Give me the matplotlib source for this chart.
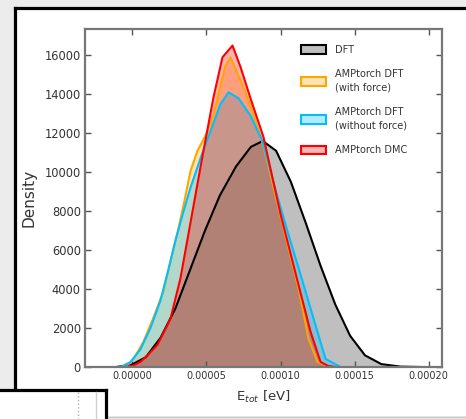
import numpy as np
import matplotlib.pyplot as plt
from matplotlib.colors import to_rgb
from matplotlib.patches import Rectangle, Patch
from matplotlib.lines import Line2D
from matplotlib.ticker import FormatStrFormatter

W, H = 466, 419

# KDE curves (energy in eV, density)
dft_x = np.array([-1.1, -0.1, 0.9, 1.9, 2.9, 3.9, 4.9, 5.9, 7.0, 8.0, 8.8, 9.7,
                  10.7, 11.7, 12.7, 13.7, 14.7, 15.7, 16.8, 18.1, 19.5]) * 1e-5
dft_y = [0, 100, 500, 1500, 3000, 5000, 7000, 8800, 10300, 11300, 11600, 11100,
         9500, 7400, 5200, 3200, 1600, 600, 150, 20, 0]

force_x = np.array([-0.47, 0.07, 0.74, 1.42, 2.09, 2.70, 3.11, 3.51, 3.92, 4.39, 4.93,
                    5.47, 5.95, 6.28, 6.62, 7.16, 7.97, 8.85, 10.0, 11.22, 11.89,
                    12.50, 13.38]) * 1e-5
force_y = [0, 400, 1290, 2530, 3870, 5830, 7120, 8520, 10060, 11100, 11870,
           12900, 14450, 15480, 15900, 14970, 13420, 11350, 7740, 4030, 1445,
           258, 0]

noforce_x = np.array([-0.81, -0.14, 0.54, 1.22, 1.89, 2.43, 2.91, 3.38, 3.92, 4.59,
                      5.27, 5.95, 6.49, 7.16, 7.97, 8.78, 9.66, 10.47, 11.49, 12.23,
                      13.04, 14.05]) * 1e-5
noforce_y = [0, 250, 900, 2000, 3400, 5000, 6500, 7800, 9200, 10700, 12100,
             13500, 14100, 13800, 12900, 11600, 9100, 6970, 4390, 2480, 413, 0]

dmc_x = np.array([-0.47, 0.07, 0.54, 1.08, 1.69, 2.57, 3.24, 3.78, 4.39, 4.80, 5.47,
                  6.08, 6.76, 7.30, 7.97, 8.85, 10.0, 11.15, 12.03, 12.70, 13.2,
                  13.72]) * 1e-5
dmc_y = [0, 80, 258, 650, 1135, 2480, 4540, 6810, 9390, 11100, 13830, 15900,
         16500, 15400, 13800, 11800, 7850, 4400, 1800, 260, 60, 0]

labels = ['DFT', 'AMPtorch DFT\n(with force)', 'AMPtorch DFT\n(without force)',
          'AMPtorch DMC']
colors = ['black', 'orange', 'deepskyblue', 'red']
alphas = [0.25, 0.3, 0.3, 0.3]
x_ticks = [0.0, 5e-5, 1e-4, 1.5e-4, 2e-4]
y_ticks = [0, 2000, 4000, 6000, 8000, 10000, 12000, 14000, 16000]


def fig_rect(fig, x0, y0, x1, y1, **kw):
    # box given in image pixels (origin top-left)
    r = Rectangle((x0 / W, 1 - y1 / H), (x1 - x0) / W, (y1 - y0) / H,
                  transform=fig.transFigure, zorder=-1, **kw)
    fig.add_artist(r)


def fig_line(fig, xs, ys, **kw):
    ln = Line2D([x / W for x in xs], [1 - y / H for y in ys],
                transform=fig.transFigure, zorder=-1, **kw)
    fig.add_artist(ln)


fig = plt.figure(figsize=(W / 100, H / 100), dpi=100, facecolor='#ececec')

# screenshot framing
fig_rect(fig, 15, 9, 466, 416, facecolor='white', edgecolor='none')
fig_line(fig, [14.5, 466], [8.5, 8.5], color='black', lw=2.3)
fig_line(fig, [14.5, 14.5], [8.5, 389], color='black', lw=2.3)
fig_line(fig, [107, 466], [417, 417], color='#c8c8c8', lw=1)
fig_rect(fig, 0, 390, 105, 419, facecolor='white', edgecolor='none')
fig_line(fig, [0, 105.5], [389.5, 389.5], color='black', lw=2.3)
fig_line(fig, [105.5, 105.5], [389.5, 419], color='black', lw=2.3)
fig_line(fig, [96, 96], [392, 419], color='#d0d0d0', lw=1)
fig_line(fig, [78, 78], [392, 419], color='#b0b0b0', lw=1, ls=':')

ax = fig.add_axes([85 / W, 1 - 367 / H, (442 - 85) / W, (367 - 29) / H])

series = [(dft_x, dft_y), (force_x, force_y), (noforce_x, noforce_y), (dmc_x, dmc_y)]
for (x, y), c, a in zip(series, colors, alphas):
    ax.fill_between(x, y, color=c, alpha=a, lw=0)
    ax.plot(x, y, color=c, lw=1.5)

ax.set_xlim(-3.2e-5, 2.09e-4)
ax.set_ylim(0, 17350)
ax.set_xticks(x_ticks)
ax.set_yticks(y_ticks)
ax.xaxis.set_major_formatter(FormatStrFormatter('%.5f'))
ax.tick_params(direction='in', top=True, right=True, length=4, width=1,
               color='#555555', labelcolor='#333333', pad=3)
ax.tick_params(axis='x', labelsize=7)
ax.tick_params(axis='y', labelsize=8.3)
for s in ax.spines.values():
    s.set_color('#777777')
    s.set_linewidth(1.6)

ax.set_xlabel('E$_{tot}$ [eV]', fontsize=9.5, color='#333333')
ax.xaxis.set_label_coords(0.5, -0.065)
ax.set_ylabel('Density', fontsize=11, color='#333333')
ax.yaxis.set_label_coords(-0.135, 0.5)

handles = []
for c, a in zip(colors, alphas):
    handles.append(Patch(facecolor=(*to_rgb(c), a), edgecolor=c, lw=1.5))
ax.legend(handles, labels, loc='upper left', bbox_to_anchor=(0.58, 0.98),
          frameon=False, fontsize=7, handlelength=2.6, handleheight=1.0,
          labelspacing=1.5, handletextpad=0.9)
for t in ax.get_legend().get_texts():
    t.set_linespacing(1.45)
    t.set_color('#333333')

plt.savefig('out.png', dpi=100, facecolor=fig.get_facecolor())
